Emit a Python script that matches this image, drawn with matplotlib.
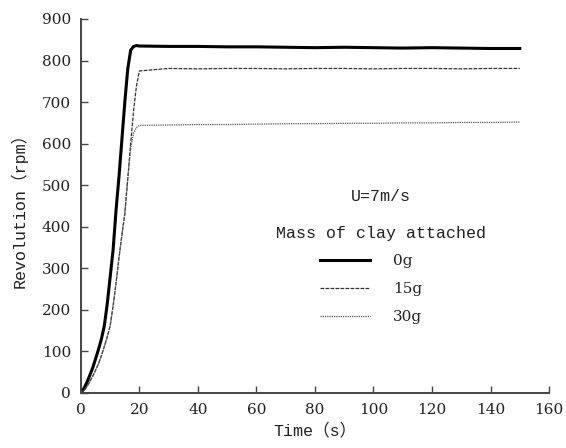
# Rotor revolution vs time at U=7m/s for three clay masses
import numpy as np
import matplotlib
matplotlib.use("Agg")
import matplotlib.pyplot as plt

# ---- data ----
T_RISE = [0, 1, 2, 3, 4, 5, 6, 7, 8, 9, 10, 11, 12, 13, 14, 15, 16, 17, 18, 19]
T_FLAT = [20, 30, 40, 50, 60, 70, 80, 90, 100, 110, 120, 130, 140, 150]

RPM_0G = [0, 10, 25, 42, 60, 82, 105, 130, 162, 215, 280, 345, 440, 520, 610, 700, 780, 825, 834, 836] + \
         [835, 834, 834, 833, 833, 832, 831, 832, 831, 830, 831, 830, 829, 829]
RPM_15G = [0, 6, 15, 27, 40, 55, 70, 90, 112, 135, 162, 210, 265, 325, 380, 430, 515, 600, 680, 740] + \
          [775, 781, 780, 781, 781, 780, 781, 781, 780, 781, 781, 780, 781, 781]
RPM_30G = [0, 6, 15, 27, 40, 55, 70, 90, 112, 135, 162, 210, 265, 325, 380, 435, 515, 590, 625, 639] + \
          [644, 645, 646, 646, 647, 648, 648, 649, 649, 650, 650, 651, 651, 652]
LABELS = ["0g", "15g", "30g"]

T = T_RISE + T_FLAT
MONO = ["Liberation Mono", "Noto Sans CJK SC"]
SERIF = ["DejaVu Serif", "Noto Sans CJK SC"]
H = 448  # figure height in px, for placing annotations from the top

fig = plt.figure(figsize=(5.66, 4.48), dpi=100)
ax = fig.add_axes([0.143, 0.1228, 0.827, 0.8348])

l0, = ax.plot(T, RPM_0G, color="black", lw=2.2, solid_joinstyle="round")
l1, = ax.plot(T, RPM_15G, color="#333", lw=0.9, ls=(0, (3, 1)))
l2, = ax.plot(T, RPM_30G, color="#555", lw=0.9, ls=(0, (1, 0.8)))

ax.set_xlim(0, 160)
ax.set_ylim(0, 900)
ax.set_xticks(np.arange(0, 161, 20))
ax.set_yticks(np.arange(0, 901, 100))
ax.tick_params(direction="in", length=5, width=1, colors="#444", labelcolor="#222", labelsize=11, pad=7)
for lab in ax.get_xticklabels() + ax.get_yticklabels():
    lab.set_family(SERIF)
for s in ("top", "right"):
    ax.spines[s].set_visible(False)
for s in ("left", "bottom"):
    ax.spines[s].set_color("#444")
    ax.spines[s].set_linewidth(1.4)

ax.set_xlabel("Time（s）", family=MONO, fontsize=12, color="#222", labelpad=4)
ax.set_ylabel("Revolution（rpm）", family=MONO, fontsize=12, color="#222", labelpad=10)

ax.text(381, H - 196, "U=7m/s", transform=None, ha="center", va="center",
        family=MONO, fontsize=12, color="#222")
ax.text(381, H - 233, "Mass of clay attached", transform=None, ha="center", va="center",
        family=MONO, fontsize=12, color="#222")

leg = fig.legend([l0, l1, l2], LABELS, loc="upper left",
                 bbox_to_anchor=(320 / 566, 1 - 254 / H),
                 frameon=False, borderpad=0, borderaxespad=0,
                 handlelength=3.3, handletextpad=1.5, labelspacing=0.92,
                 prop={"family": SERIF, "size": 11})
for t in leg.get_texts():
    t.set_color("#222")

fig.savefig("out.png", dpi=100)
